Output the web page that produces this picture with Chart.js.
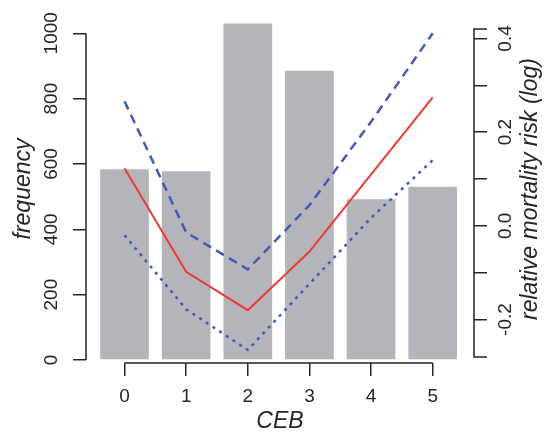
<!DOCTYPE html>
<html>
<head>
<meta charset="utf-8">
<script src="https://cdn.jsdelivr.net/npm/chart.js@4.4.1/dist/chart.umd.min.js"></script>
<style>
  html, body { margin: 0; padding: 0; background: #fff; }
  #wrap { width: 544px; height: 438px; }
</style>
</head>
<body>
<div id="wrap"><canvas id="ceb-chart"></canvas></div>
<script>
// children ever born (CEB) vs frequency and log relative mortality risk
const ceb = [0, 1, 2, 3, 4, 5];
const frequency = [584, 578, 1030, 885, 492, 530];
const riskEstimate = [0.123, -0.098, -0.180, -0.055, 0.110, 0.274];
const riskUpper = [0.266, -0.014, -0.093, 0.044, 0.222, 0.411];
const riskLower = [-0.020, -0.178, -0.265, -0.124, 0.017, 0.140];

const freqTicks = [0, 200, 400, 600, 800, 1000];
const riskTicks = [-0.2, -0.1, 0, 0.1, 0.2, 0.3, 0.4];
const riskTickLabels = ["-0.2", "", "0.0", "", "0.2", "", "0.4"];
const riskAxisEnds = [-0.28, 0.42];

const points = vals => ceb.map((c, i) => ({ x: c, y: vals[i] }));
const setTicks = list => scale => { scale.ticks = list.map(v => ({ value: v })); };

const ink = "#262626";
const family = "'Liberation Sans', Arial, sans-serif";
const tickFont = { family: family, size: 19 };
const titleFont = { family: family, size: 23, style: "italic" };
const tickGrid = { drawOnChartArea: false, drawTicks: true, tickLength: 13, color: ink, lineWidth: 1.5, offset: false };

// R style axis lines: only from first to last tick, plus right-hand title
const rAxes = {
  id: "rAxes",
  afterDraw(chart) {
    const { ctx, chartArea: a, scales } = chart;
    const x = scales.x, y = scales.y, y1 = scales.y1;
    ctx.save();
    ctx.strokeStyle = ink;
    ctx.lineWidth = 1.5;
    ctx.beginPath();
    ctx.moveTo(x.getPixelForValue(ceb[0]), a.bottom);
    ctx.lineTo(x.getPixelForValue(ceb[ceb.length - 1]), a.bottom);
    ctx.moveTo(a.left, y.getPixelForValue(freqTicks[0]));
    ctx.lineTo(a.left, y.getPixelForValue(freqTicks[freqTicks.length - 1]));
    const top = y1.getPixelForValue(riskAxisEnds[1]);
    const bot = y1.getPixelForValue(riskAxisEnds[0]);
    ctx.moveTo(a.right + 13, top);
    ctx.lineTo(a.right, top);
    ctx.lineTo(a.right, bot);
    ctx.lineTo(a.right + 13, bot);
    ctx.stroke();

    ctx.translate(531, (a.top + a.bottom) / 2);
    ctx.rotate(-Math.PI / 2);
    ctx.font = "italic 23px " + family;
    ctx.fillStyle = ink;
    ctx.textAlign = "center";
    ctx.textBaseline = "middle";
    ctx.fillText("relative mortality risk (log)", 0, 0);
    ctx.restore();
  }
};

new Chart(document.getElementById("ceb-chart"), {
  type: "bar",
  data: {
    datasets: [
      {
        type: "line",
        data: points(riskEstimate),
        yAxisID: "y1",
        borderColor: "#f03a30",
        borderWidth: 2,
        pointRadius: 0,
        order: 1
      },
      {
        type: "line",
        data: points(riskUpper),
        yAxisID: "y1",
        borderColor: "#4558c0",
        borderWidth: 2.5,
        borderDash: [9, 6],
        pointRadius: 0,
        order: 1
      },
      {
        type: "line",
        data: points(riskLower),
        yAxisID: "y1",
        borderColor: "#4558c0",
        borderWidth: 2.5,
        borderDash: [3, 5],
        pointRadius: 0,
        order: 1
      },
      {
        type: "bar",
        data: points(frequency),
        yAxisID: "y",
        backgroundColor: "#b4b5ba",
        barPercentage: 0.79,
        categoryPercentage: 1,
        order: 2
      }
    ]
  },
  options: {
    responsive: true,
    maintainAspectRatio: false,
    animation: false,
    layout: { padding: { top: 15, left: 0, right: 0, bottom: 0 } },
    plugins: { legend: { display: false }, tooltip: { enabled: false } },
    scales: {
      x: {
        type: "linear",
        min: -0.625,
        max: 5.67,
        offset: false,
        afterBuildTicks: setTicks(ceb),
        afterFit: s => { s.height = 75; },
        grid: tickGrid,
        border: { display: false },
        ticks: { font: tickFont, color: ink, padding: 9, autoSkip: false, maxRotation: 0 },
        title: { display: true, text: "CEB", font: titleFont, color: ink, padding: { top: 0, bottom: 3 } }
      },
      y: {
        position: "left",
        min: -9.2,
        max: 1056,
        afterBuildTicks: setTicks(freqTicks),
        afterFit: s => { s.width = 86; },
        grid: tickGrid,
        border: { display: false },
        ticks: {
          font: tickFont, color: ink, minRotation: 90, maxRotation: 90, crossAlign: "center", padding: 0, autoSkip: false,
          callback: v => String(v)
        },
        title: { display: true, text: "frequency", font: titleFont, color: ink, padding: { top: 10, bottom: 0 } }
      },
      y1: {
        position: "right",
        min: -0.2928,
        max: 0.45,
        afterBuildTicks: setTicks(riskTicks),
        afterFit: s => { s.width = 70; },
        grid: tickGrid,
        border: { display: false },
        ticks: {
          font: tickFont, color: ink, minRotation: 90, maxRotation: 90, crossAlign: "center", padding: 2, autoSkip: false,
          callback: (v, i) => riskTickLabels[i]
        }
      }
    }
  },
  plugins: [rAxes]
});
</script>
</body>
</html>
